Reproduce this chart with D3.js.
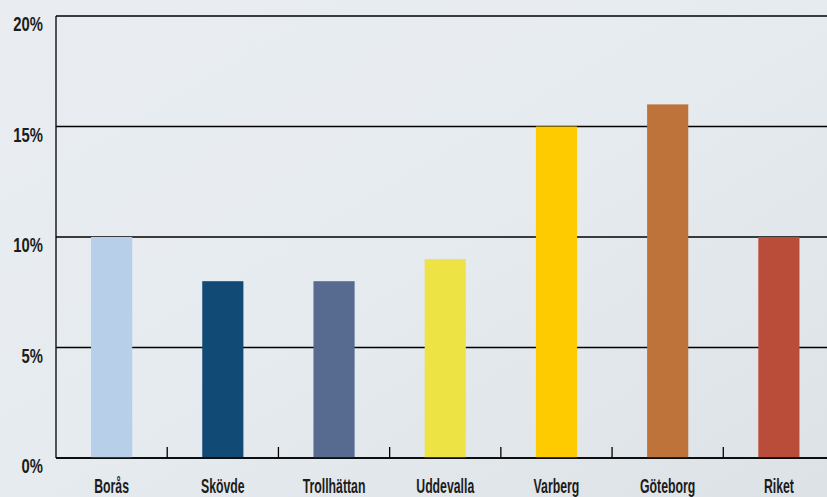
<!DOCTYPE html>
<html>
<head>
<meta charset="utf-8">
<script src="https://cdn.jsdelivr.net/npm/d3@7"></script>
<style>
  html, body { margin: 0; padding: 0; }
  body { width: 827px; height: 497px; overflow: hidden; }
  text { font-family: "Liberation Sans", Arial, sans-serif; font-weight: bold; fill: #1c1c1c; }
</style>
</head>
<body>
<svg id="chart" width="827" height="497"></svg>
<script>
const categories = ["Borås", "Skövde", "Trollhättan", "Uddevalla", "Varberg", "Göteborg", "Riket"];
const values = [10, 8, 8, 9, 15, 16, 10];
const colors = ["#b8cfea", "#104a75", "#576b91", "#ede345", "#fecb00", "#bd733a", "#b94d3a"];
const yTicks = [0, 5, 10, 15, 20];

(function () {
const svg = d3.select("#chart");
const W = 827, H = 497;

const defs = svg.append("defs");
const grad = defs.append("linearGradient").attr("id", "bg")
  .attr("x1", "0").attr("y1", "0").attr("x2", "1").attr("y2", "1");
grad.append("stop").attr("offset", "0%").attr("stop-color", "#e9edf1");
grad.append("stop").attr("offset", "50%").attr("stop-color", "#e6ebef");
grad.append("stop").attr("offset", "100%").attr("stop-color", "#dde2e6");
svg.append("rect").attr("width", W).attr("height", H).attr("fill", "url(#bg)");

const mLeft = 56, mTop = 16, mBottom = 458, mRight = 834.5;
const x = d3.scaleBand().domain(categories).range([mLeft, mRight]).padding(0);
const y = d3.scaleLinear().domain([0, 20]).range([mBottom, mTop]);
const barW = x.bandwidth() * 0.37;

// gridlines
svg.append("g").selectAll("line").data(yTicks).join("line")
  .attr("x1", mLeft).attr("x2", W)
  .attr("y1", d => y(d)).attr("y2", d => y(d))
  .attr("stroke", "#000").attr("stroke-width", 1.3);

// y axis line
svg.append("line").attr("x1", mLeft).attr("x2", mLeft).attr("y1", mTop).attr("y2", mBottom)
  .attr("stroke", "#000").attr("stroke-width", 1.3);

// bars
svg.append("g").selectAll("rect").data(categories).join("rect")
  .attr("x", d => x(d) + (x.bandwidth() - barW) / 2)
  .attr("width", barW)
  .attr("y", (d, i) => y(values[i]))
  .attr("height", (d, i) => mBottom - y(values[i]))
  .attr("fill", (d, i) => colors[i]);

// category ticks at band boundaries
svg.append("g").selectAll("line").data(categories.slice(1)).join("line")
  .attr("x1", d => x(d)).attr("x2", d => x(d))
  .attr("y1", mBottom).attr("y2", mBottom - 11)
  .attr("stroke", "#000").attr("stroke-width", 1.3);

// baseline on top of bars
svg.append("line").attr("x1", mLeft).attr("x2", W).attr("y1", mBottom).attr("y2", mBottom)
  .attr("stroke", "#000").attr("stroke-width", 1.3);

// y labels (condensed via horizontal scale)
svg.append("g").selectAll("text").data(yTicks).join("text")
  .attr("transform", d => `translate(43,${y(d) + 15}) scale(0.76,1)`)
  .attr("text-anchor", "end")
  .attr("font-size", 19.5)
  .text(d => d + "%");

// x labels
svg.append("g").selectAll("text").data(categories).join("text")
  .attr("transform", d => `translate(${x(d) + x.bandwidth() / 2},492.5) scale(0.63,1)`)
  .attr("text-anchor", "middle")
  .attr("font-size", 19.5)
  .text(d => d);
})();
</script>
</body>
</html>
